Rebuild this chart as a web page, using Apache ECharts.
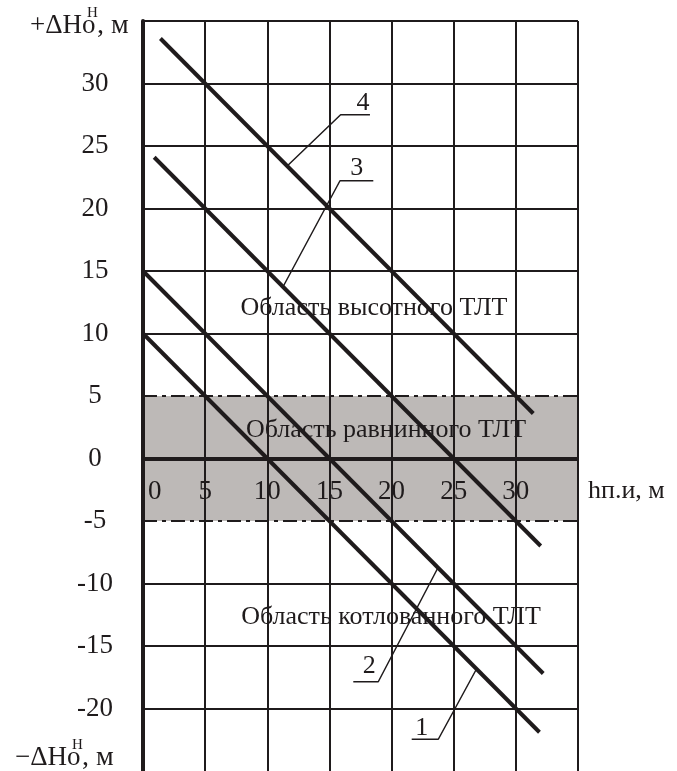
<!DOCTYPE html>
<html>
<head>
<meta charset="utf-8">
<script src="https://cdn.jsdelivr.net/npm/echarts@6/dist/echarts.min.js"></script>
<style>
  html, body { margin: 0; padding: 0; background: #fff; }
  #chart { width: 677px; height: 771px; }
</style>
</head>
<body>
<div id="chart"></div>
<script>
// Lines 1–4: height difference vs. h (endpoints, m)
const line1 = [[0, 10], [31.9, -21.9]];
const line2 = [[0, 15], [32.2, -17.2]];
const line3 = [[0.9, 24.1], [32.0, -7.0]];
const line4 = [[1.4, 33.6], [31.4, 3.6]];

// Leader lines pointing to each numbered line, and the number positions
const leader1 = [[26.8, -16.9], [23.76, -22.46], [21.62, -22.46]];
const leader2 = [[23.7, -8.8], [18.93, -17.86], [16.92, -17.86]];
const leader3 = [[11.3, 13.8], [15.85, 22.22], [18.53, 22.22]];
const leader4 = [[11.6, 23.4], [15.9, 27.5], [18.26, 27.5]];
const numberLabels = [
  { name: '1', value: [22.42, -21.56] },
  { name: '2', value: [18.2, -16.6] },
  { name: '3', value: [17.2, 23.24] },
  { name: '4', value: [17.7, 28.44] }
];

// Flat-terrain band limits
const bandLow = -5;
const bandHigh = 5;

// Axis ranges and tick labels
const xMin = 0, xMax = 35, xStep = 5;
const yMin = -25, yMax = 35, yStep = 5;
const xTickLabels = ['0', '5', '10', '15', '20', '25', '30'];
const yTickLabels = ['-20', '-15', '-10', '-5', '0', '5', '10', '15', '20', '25', '30'];

const INK = '#1f1b1c';
const FONT = '"Liberation Serif", "Times New Roman", serif';

// Plot area in pixels
const GRID_LEFT = 143, GRID_TOP = 21, GRID_RIGHT = 578, GRID_BOTTOM = 771;
const gridHeight = GRID_BOTTOM - GRID_TOP;
// The h-axis labels sit along the zero line, so shift the axis up from the grid bottom
const zeroOffset = -gridHeight * (0 - yMin) / (yMax - yMin);

// Horizontal grid line colours: none at the chart bottom and at the band edges
const ySplitColors = [];
for (let v = yMin; v <= yMax; v += yStep) {
  ySplitColors.push((v === yMin || v === bandLow || v === bandHigh) ? 'rgba(0,0,0,0)' : INK);
}

const chart = echarts.init(document.getElementById('chart'), null, { renderer: 'canvas' });

function mainLine(data) {
  return {
    type: 'line', data: data, symbol: 'none', z: 5, silent: true,
    lineStyle: { color: INK, width: 4 }
  };
}
function leaderLine(data) {
  return {
    type: 'line', data: data, symbol: 'none', z: 5, silent: true,
    lineStyle: { color: INK, width: 1.5 }
  };
}

// Axis title: ΔH with subscript "о" and superscript "Н"
function axisTitle(sign, left, top) {
  return [
    { type: 'text', left: left, top: top, z: 10, style: { text: sign + 'ΔHо', fill: INK, font: '27px ' + FONT } },
    { type: 'text', left: left + 57, top: top - 6.5, z: 10, style: { text: 'Н', fill: INK, font: '15px ' + FONT } },
    { type: 'text', left: left + 67, top: top, z: 10, style: { text: ', м', fill: INK, font: '28px ' + FONT } }
  ];
}

chart.setOption({
  backgroundColor: '#fff',
  animation: false,
  grid: {
    left: GRID_LEFT, top: GRID_TOP, right: 677 - GRID_RIGHT, bottom: 771 - GRID_BOTTOM,
    containLabel: false, outerBoundsMode: 'none'
  },
  xAxis: {
    type: 'value', min: xMin, max: xMax, interval: xStep, z: 3,
    position: 'bottom', offset: zeroOffset,
    axisLine: { show: false, onZero: false },
    axisTick: { show: false },
    axisLabel: {
      margin: 20, color: INK, fontFamily: FONT, fontSize: 27,
      alignMinLabel: 'left',
      formatter: v => {
        const s = String(v);
        if (!xTickLabels.includes(s)) return '';
        return v === xMin ? '{first|' + s + '}' : s;
      },
      rich: { first: { padding: [0, 0, 0, 5], fontFamily: FONT, fontSize: 27, color: INK } }
    },
    splitLine: { show: true, lineStyle: { color: INK, width: 2 } }
  },
  yAxis: {
    type: 'value', min: yMin, max: yMax, interval: yStep, z: 3,
    axisLine: { show: true, onZero: false, lineStyle: { color: INK, width: 4 } },
    axisTick: { show: false },
    axisLabel: {
      margin: 48, align: 'center', color: INK, fontFamily: FONT, fontSize: 27,
      formatter: v => yTickLabels.includes(String(v)) ? String(v) : ''
    },
    splitLine: { show: true, lineStyle: { color: ySplitColors, width: 2 } }
  },
  series: [
    {
      type: 'line', data: [], z: 1, silent: true,
      markArea: {
        silent: true,
        itemStyle: { color: '#bdb9b7' },
        data: [[{ xAxis: xMin, yAxis: bandLow }, { xAxis: xMax, yAxis: bandHigh }]]
      },
      markLine: {
        silent: true, symbol: 'none', label: { show: false },
        lineStyle: { color: INK, width: 2, type: [14, 5, 4, 5] },
        data: [{ yAxis: bandLow }, { yAxis: bandHigh }]
      }
    },
    {
      // zero line of the h axis
      type: 'line', data: [], z: 4, silent: true,
      markLine: {
        silent: true, symbol: 'none', label: { show: false },
        lineStyle: { color: INK, width: 4, type: 'solid' },
        data: [{ yAxis: 0 }]
      }
    },
    mainLine(line1), mainLine(line2), mainLine(line3), mainLine(line4),
    leaderLine(leader1), leaderLine(leader2), leaderLine(leader3), leaderLine(leader4),
    {
      type: 'scatter', data: numberLabels, symbolSize: 0, z: 6, silent: true,
      itemStyle: { opacity: 1 },
      label: {
        show: true, position: 'inside', formatter: p => p.name,
        color: INK, fontFamily: FONT, fontSize: 26, textBorderWidth: 0, opacity: 1
      }
    }
  ],
  graphic: [
    ...axisTitle('+', 30, 12),
    ...axisTitle('−', 15, 744),
    { type: 'text', left: 588, top: 478, z: 10, style: { text: 'hп.и, м', fill: INK, font: '26px ' + FONT } },
    { type: 'text', x: 374, y: 308, z: 10, style: { text: 'Область высотного ТЛТ', fill: INK, font: '26px ' + FONT, align: 'center', verticalAlign: 'middle' } },
    { type: 'text', x: 386, y: 430, z: 10, style: { text: 'Область равнинного ТЛТ', fill: INK, font: '26px ' + FONT, align: 'center', verticalAlign: 'middle' } },
    { type: 'text', x: 391, y: 617, z: 10, style: { text: 'Область котлованного ТЛТ', fill: INK, font: '26px ' + FONT, align: 'center', verticalAlign: 'middle' } }
  ]
});
</script>
</body>
</html>
